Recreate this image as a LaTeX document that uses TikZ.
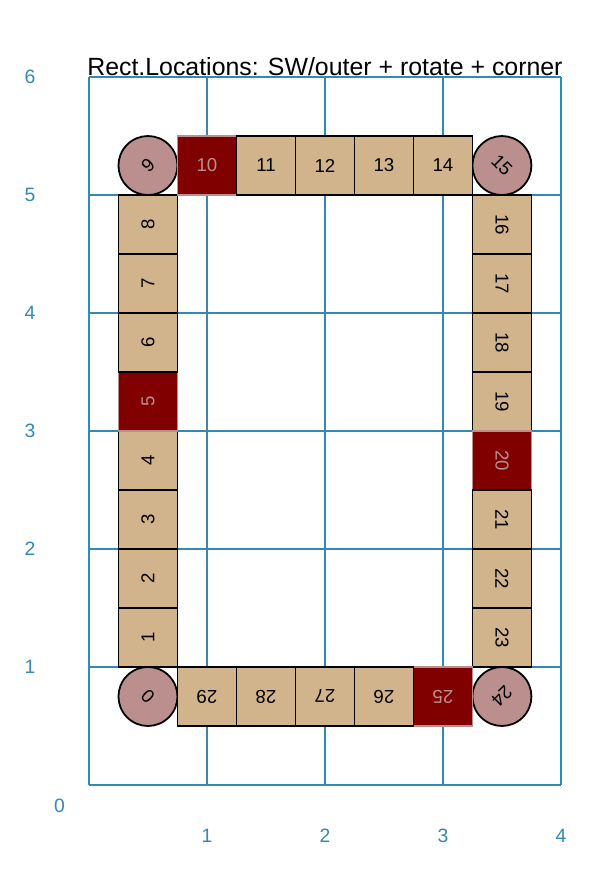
\documentclass[tikz,border=0pt]{standalone}
\usepackage{fontspec}
\setmainfont{Liberation Sans}
\usepackage{tikz}
\usetikzlibrary{positioning}
\definecolor{gridblue}{RGB}{52,136,180}
\definecolor{loctan}{RGB}{210,180,140}
\definecolor{locred}{RGB}{128,0,0}
\definecolor{rosy}{RGB}{188,143,143}
\tikzset{
  gridline/.style={gridblue, line width=1.3pt},
  axlabel/.style={text=gridblue, font=\fontsize{14}{16}\selectfont},
  locsq/.style={draw=black, fill=loctan, line width=1.3pt, minimum size=1.5cm,
    inner sep=0pt, font=\fontsize{13.5}{15}\selectfont},
  locmark/.style={locsq, draw=rosy, fill=locred, text=rosy},
  loccirc/.style={locsq, circle, fill=rosy}
}

\begin{document}
\begin{tikzpicture}[x=3cm, y=3cm]
	\useasboundingbox (-0.754,-0.763) rectangle (4.458,6.653);

	% grid
	\foreach \x in {0,...,4} \draw[gridline] (\x,0) -- (\x,6);
	\foreach \y in {0,...,6} \draw[gridline] (0,\y) -- (4,\y);

	\node[axlabel] (xlab0) at (-0.25,-0.18) {0};
	\foreach \x in {1,...,4} \node[axlabel] (xlab\x) at (\x,-0.43) {\x};
	\foreach \y in {1,...,6} \node[axlabel] (ylab\y) at (-0.5,\y) {\y};

	\node[anchor=base, font=\fontsize{18}{20}\selectfont] (title) at (2,6.01)
		{Rect.Locations: SW/outer + rotate + corner};

	% corners
	\node[loccirc, rotate=135] (loc0) at (0.5,0.75) {0};
	\node[loccirc, rotate=45] (loc9) at (0.5,5.25) {9};
	\node[loccirc, rotate=-45] (loc15) at (3.5,5.25) {15};
	\node[loccirc, rotate=-135] (loc24) at (3.5,0.75) {24};

	% west side
	\foreach \i/\s in {1/locsq,2/locsq,3/locsq,4/locsq,5/locmark,6/locsq,7/locsq,8/locsq}
		\node[\s, rotate=90] (loc\i) at (0.5,{0.75+0.5*\i}) {\i};
	% north side
	\foreach \i/\s in {10/locmark,11/locsq,12/locsq,13/locsq,14/locsq}
		\node[\s] (loc\i) at ({1+0.5*(\i-10)},5.25) {\i};
	% east side
	\foreach \i/\s in {16/locsq,17/locsq,18/locsq,19/locsq,20/locmark,21/locsq,22/locsq,23/locsq}
		\node[\s, rotate=-90] (loc\i) at (3.5,{5.25-0.5*(\i-15)}) {\i};
	% south side
	\foreach \i/\s in {25/locmark,26/locsq,27/locsq,28/locsq,29/locsq}
		\node[\s, rotate=180] (loc\i) at ({3-0.5*(\i-25)},0.75) {\i};
\end{tikzpicture}
\end{document}
